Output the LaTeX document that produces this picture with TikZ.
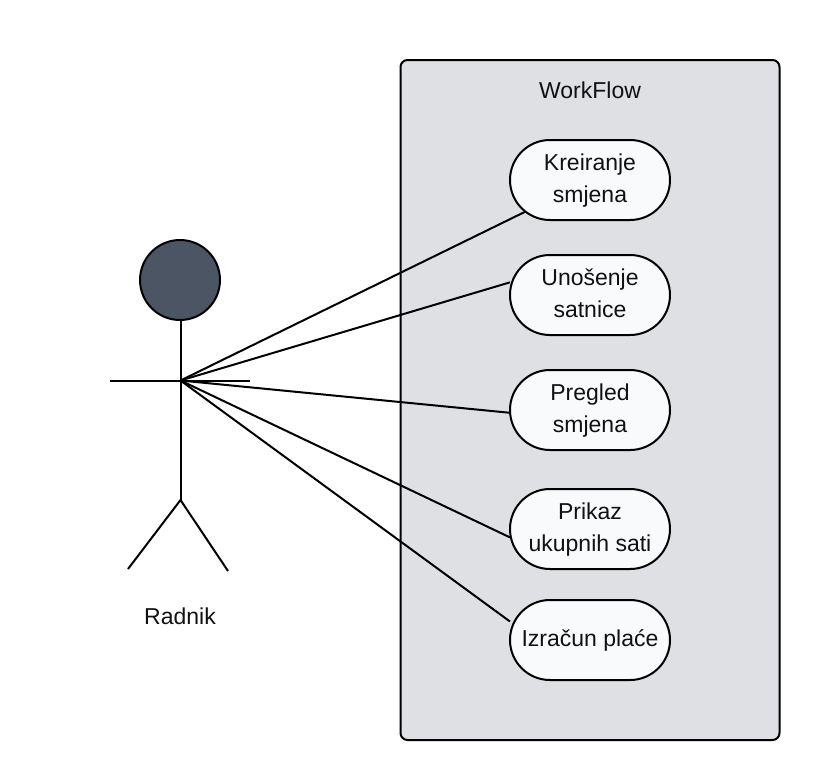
\documentclass[tikz,border=0pt]{standalone}
\usepackage{fontspec}
\setmainfont{Liberation Sans}
\pgfdeclarelayer{background}
\pgfdeclarelayer{connectors}
\pgfsetlayers{background,connectors,main}
\definecolor{caseFill}{HTML}{F9FAFB}
\definecolor{boxFill}{HTML}{DEE0E4}
\definecolor{headFill}{HTML}{4B5563}
\definecolor{inkText}{HTML}{111111}
\newcommand{\caselines}[2]{\raisebox{-3.5pt}{\begin{tabular}{@{}c@{}}#1\\#2\end{tabular}}}
\tikzset{
  px/.style={x=1pt,y=-1pt},
  line/.style={draw=black,line width=2pt},
  usecase/.style={line,fill=caseFill,rounded corners=40pt,minimum width=160pt,minimum height=80pt,inner sep=0pt,outer sep=0pt,align=center,text=inkText,font=\fontsize{23}{32}\selectfont},
  lab/.style={inner sep=0pt,outer sep=0pt,text=inkText,align=center,font=\fontsize{23}{32}\selectfont}
}
\begin{document}
\begin{tikzpicture}[px]
\useasboundingbox (0,0) rectangle (820,780);
\begin{pgfonlayer}{background}
\node[line,fill=boxFill,rounded corners=7pt,minimum width=379pt,minimum height=680pt,inner sep=0pt,outer sep=0pt] (box) at (590,400) {};
\end{pgfonlayer}
\node[lab] (title) at (590,90) {WorkFlow};
\node[line,circle,fill=headFill,minimum size=80pt,inner sep=0pt,outer sep=0pt] (head) at (180,280) {};
\coordinate (hub) at (180.5,380.5);
\coordinate (hip) at (180.5,500);
\coordinate (armL) at (110,380.5);
\coordinate (armR) at (250,380.5);
\coordinate (legL) at (128,569);
\coordinate (legR) at (228,571);
\draw[line] (head.south -| hub) -- (hip);
\draw[line] (armL) -- (armR);
\draw[line] (legL) -- (hip) -- (legR);
\node[lab] (actor) at (180,616.5) {Radnik};
\node[usecase] (n1) at (590,180) {\caselines{Kreiranje}{smjena}};
\node[usecase] (n2) at (590,295) {\caselines{Unošenje}{satnice}};
\node[usecase] (n3) at (590,410) {\caselines{Pregled}{smjena}};
\node[usecase] (n4) at (590,529) {\caselines{Prikaz}{ukupnih sati}};
\node[usecase] (n5) at (590,640) {Izračun plaće};
\begin{pgfonlayer}{connectors}
\draw[line] (hub) -- (n1.center);
\draw[line] (hub) -- (n2.171);
\draw[line] (hub) -- (n3.182);
\draw[line] (hub) -- (n4.186);
\draw[line] (hub) -- (n5.167);
\end{pgfonlayer}
\end{tikzpicture}
\end{document}
